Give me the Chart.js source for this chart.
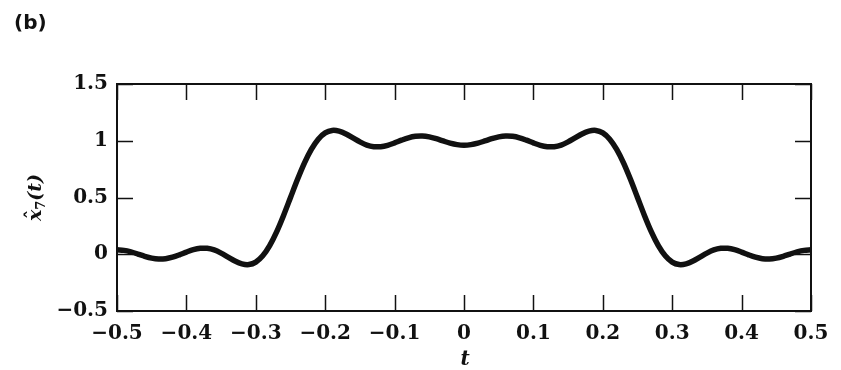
<!DOCTYPE html>
<html>
<head>
<meta charset="utf-8">
<script src="https://cdn.jsdelivr.net/npm/chart.js@4.4.1/dist/chart.umd.min.js"></script>
<style>
html,body{margin:0;padding:0;background:#fff;}
#wrap{width:841px;height:370px;position:relative;}
</style>
</head>
<body>
<div id="wrap"><canvas id="c" width="841" height="370"></canvas></div>
<script>
// ---- data ----
const tValues = [
 -0.50,-0.49,-0.48,-0.47,-0.46,-0.45,-0.44,-0.43,-0.42,-0.41,
 -0.40,-0.39,-0.38,-0.37,-0.36,-0.35,-0.34,-0.33,-0.32,-0.31,
 -0.30,-0.29,-0.28,-0.27,-0.26,-0.25,-0.24,-0.23,-0.22,-0.21,
 -0.20,-0.19,-0.18,-0.17,-0.16,-0.15,-0.14,-0.13,-0.12,-0.11,
 -0.10,-0.09,-0.08,-0.07,-0.06,-0.05,-0.04,-0.03,-0.02,-0.01,
  0.00,
  0.01, 0.02, 0.03, 0.04, 0.05, 0.06, 0.07, 0.08, 0.09, 0.10,
  0.11, 0.12, 0.13, 0.14, 0.15, 0.16, 0.17, 0.18, 0.19, 0.20,
  0.21, 0.22, 0.23, 0.24, 0.25, 0.26, 0.27, 0.28, 0.29, 0.30,
  0.31, 0.32, 0.33, 0.34, 0.35, 0.36, 0.37, 0.38, 0.39, 0.40,
  0.41, 0.42, 0.43, 0.44, 0.45, 0.46, 0.47, 0.48, 0.49, 0.50
];
const x7Values = [
  0.039, 0.034, 0.021, 0.002,-0.018,-0.034,-0.042,-0.039,-0.026,-0.005,
  0.019, 0.040, 0.052, 0.052, 0.038, 0.010,-0.025,-0.060,-0.085,-0.091,
 -0.069,-0.014, 0.076, 0.197, 0.342, 0.500, 0.658, 0.803, 0.924, 1.014,
  1.069, 1.091, 1.085, 1.060, 1.025, 0.990, 0.962, 0.948, 0.948, 0.960,
  0.981, 1.005, 1.026, 1.039, 1.042, 1.034, 1.018, 0.998, 0.979, 0.966,
  0.961,
  0.966, 0.979, 0.998, 1.018, 1.034, 1.042, 1.039, 1.026, 1.005, 0.981,
  0.960, 0.948, 0.948, 0.962, 0.990, 1.025, 1.060, 1.085, 1.091, 1.069,
  1.014, 0.924, 0.803, 0.658, 0.500, 0.342, 0.197, 0.076,-0.014,-0.069,
 -0.091,-0.085,-0.060,-0.025, 0.010, 0.038, 0.052, 0.052, 0.040, 0.019,
 -0.005,-0.026,-0.039,-0.042,-0.034,-0.018, 0.002, 0.021, 0.034, 0.039
];
const xTickValues = [-0.5,-0.4,-0.3,-0.2,-0.1,0,0.1,0.2,0.3,0.4,0.5];
const xTickLabels = ['\u22120.5','\u22120.4','\u22120.3','\u22120.2','\u22120.1','0','0.1','0.2','0.3','0.4','0.5'];
const yTickValues = [-0.5,0,0.5,1,1.5];
const yTickLabels = ['\u22120.5','0','0.5','1','1.5'];
const panelLabel = '(b)';
const xAxisTitle = 't';
const yAxisTitle = ['x','7','(t)'];

// ---- chart ----
const SERIF = '"DejaVu Serif", "Liberation Serif", serif';
const TICK = 16;

const framePlugin = {
  id: 'frame',
  afterDraw(chart) {
    const ctx = chart.ctx;
    const a = chart.chartArea;
    const xs = chart.scales.x, ys = chart.scales.y;
    ctx.save();
    ctx.strokeStyle = '#111';
    ctx.lineWidth = 2;
    ctx.strokeRect(a.left, a.top, a.right - a.left, a.bottom - a.top);
    ctx.lineWidth = 1.5;
    ctx.beginPath();
    xTickValues.forEach(v => {
      const p = Math.round(xs.getPixelForValue(v)) + 0.5;
      ctx.moveTo(p, a.bottom); ctx.lineTo(p, a.bottom - TICK);
      ctx.moveTo(p, a.top); ctx.lineTo(p, a.top + TICK);
    });
    yTickValues.forEach(v => {
      const p = Math.round(ys.getPixelForValue(v)) + 0.5;
      ctx.moveTo(a.left, p); ctx.lineTo(a.left + TICK, p);
      ctx.moveTo(a.right, p); ctx.lineTo(a.right - TICK, p);
    });
    ctx.stroke();

    // panel label
    ctx.fillStyle = '#111';
    ctx.font = 'bold 20px "DejaVu Sans", "Liberation Sans", sans-serif';
    ctx.textAlign = 'left';
    ctx.textBaseline = 'middle';
    ctx.fillText(panelLabel, 14, 24);

    // x axis title
    ctx.font = 'italic bold 20px ' + SERIF;
    ctx.textAlign = 'center';
    ctx.textBaseline = 'middle';
    ctx.fillText(xAxisTitle, (a.left + a.right) / 2 + 1, 360);

    // y axis title (rotated)
    ctx.translate(41, (a.top + a.bottom) / 2);
    ctx.rotate(-Math.PI / 2);
    ctx.textBaseline = 'alphabetic';
    ctx.textAlign = 'left';
    const big = 'italic bold 19px ' + SERIF;
    const small = 'bold 13px ' + SERIF;
    ctx.font = big;
    const wx = ctx.measureText(yAxisTitle[0]).width;
    ctx.font = small;
    const w7 = ctx.measureText(yAxisTitle[1]).width;
    ctx.font = big;
    const wt = ctx.measureText(yAxisTitle[2]).width;
    let x0 = -(wx + w7 + wt) / 2;
    ctx.fillText(yAxisTitle[0], x0, 0);
    // hat over x
    ctx.font = 'bold 18px ' + SERIF;
    ctx.textAlign = 'center';
    ctx.fillText('\u02C6', x0 + wx / 2 + 1, -2);
    ctx.textAlign = 'left';
    ctx.font = small;
    ctx.fillText(yAxisTitle[1], x0 + wx, 4);
    ctx.font = big;
    ctx.fillText(yAxisTitle[2], x0 + wx + w7, 0);
    ctx.restore();
  }
};

new Chart(document.getElementById('c'), {
  type: 'line',
  data: {
    datasets: [{
      data: tValues.map((t, i) => ({ x: t, y: x7Values[i] })),
      borderColor: '#111',
      borderWidth: 5.5,
      pointRadius: 0,
      tension: 0.3,
      fill: false,
      clip: false
    }]
  },
  options: {
    responsive: false,
    animation: false,
    devicePixelRatio: 1,
    layout: { padding: { left: 0, right: 30, top: 84, bottom: 0 } },
    plugins: { legend: { display: false }, tooltip: { enabled: false }, title: { display: false } },
    scales: {
      x: {
        type: 'linear',
        min: -0.5, max: 0.5,
        afterBuildTicks: s => { s.ticks = xTickValues.map(v => ({ value: v })); },
        afterFit: s => { s.height = 59; },
        grid: { display: false, drawTicks: false },
        border: { display: false },
        ticks: {
          autoSkip: false, maxRotation: 0, padding: 11,
          color: '#111',
          font: { family: SERIF, size: 20, weight: 'bold' },
          callback: (v, i) => xTickLabels[i]
        }
      },
      y: {
        type: 'linear',
        min: -0.5, max: 1.5,
        afterBuildTicks: s => { s.ticks = yTickValues.map(v => ({ value: v })); },
        afterFit: s => { s.width = 117; },
        grid: { display: false, drawTicks: false },
        border: { display: false },
        ticks: {
          autoSkip: false, padding: 9,
          color: '#111',
          font: { family: SERIF, size: 20, weight: 'bold' },
          callback: (v, i) => yTickLabels[i]
        }
      }
    }
  },
  plugins: [framePlugin]
});
</script>
</body>
</html>
